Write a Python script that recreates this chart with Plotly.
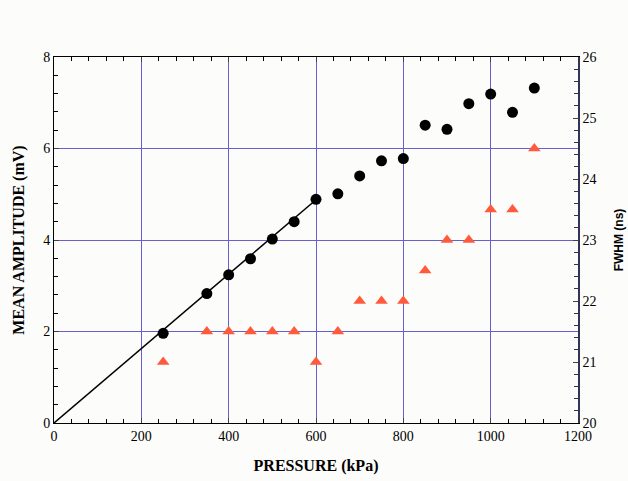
import plotly.graph_objects as go

pressure = [250, 350, 400, 450, 500, 550, 600, 650, 700, 750, 800, 850, 900, 950, 1000, 1050, 1100]
amplitude = [1.96, 2.83, 3.24, 3.59, 4.02, 4.40, 4.89, 5.01, 5.40, 5.73, 5.78, 6.51, 6.42, 6.98, 7.19, 6.79, 7.32]
fwhm = [21.0, 21.5, 21.5, 21.5, 21.5, 21.5, 21.0, 21.5, 22.0, 22.0, 22.0, 22.5, 23.0, 23.0, 23.5, 23.5, 24.5]
fit_x = [0, 600]
fit_y = [0, 4.88]

grid_color = "#6a5fd0"
serif = "Liberation Serif"
sans = "Liberation Sans"

fig = go.Figure()
fig.add_trace(go.Scatter(x=fit_x, y=fit_y, mode="lines",
                         line=dict(color="black", width=1.5), showlegend=False))
fig.add_trace(go.Scatter(x=pressure, y=amplitude, mode="markers",
                         marker=dict(symbol="circle", size=11, color="black"), showlegend=False))
fig.add_trace(go.Scatter(x=pressure, y=fwhm, mode="markers", yaxis="y2",
                         marker=dict(symbol="triangle-up", size=11, color="#ff5a3c"), showlegend=False))

fig.update_layout(
    width=628, height=481,
    margin=dict(l=54, r=50, t=57, b=58),
    paper_bgcolor="#fcfcfa", plot_bgcolor="#fcfcfa",
    font=dict(family=serif, size=14, color="black"),
    xaxis=dict(range=[0, 1200], dtick=200, tick0=0, ticks="inside", ticklen=5,
               showline=True, linecolor="black", linewidth=1, mirror="ticks", automargin=False,
               showgrid=True, gridcolor=grid_color, gridwidth=1, zeroline=False,
               minor=dict(dtick=40, ticks="inside", ticklen=4, tickcolor="black", showgrid=False),
               tickfont=dict(family=serif, size=14),
               title=dict(text="<b>PRESSURE (kPa)</b>", font=dict(family=serif, size=16), standoff=17)),
    yaxis=dict(range=[0, 8], dtick=2, tick0=0, ticks="inside", ticklen=5, automargin=False,
               showline=True, linecolor="black", linewidth=1,
               showgrid=True, gridcolor=grid_color, gridwidth=1, zeroline=False,
               minor=dict(dtick=0.4, ticks="inside", ticklen=4, tickcolor="black", showgrid=False),
               tickfont=dict(family=serif, size=14),
               title=dict(text="<b>MEAN AMPLITUDE (mV)</b>", font=dict(family=serif, size=16), standoff=14)),
    yaxis2=dict(range=[20, 26], dtick=1, tick0=20, overlaying="y", side="right", automargin=False,
                ticks="inside", ticklen=5, showline=True, linecolor="#333355", linewidth=1.5,
                showgrid=False, zeroline=False,
                minor=dict(dtick=0.2, ticks="inside", ticklen=4, tickcolor="#333355", showgrid=False),
                tickfont=dict(family=serif, size=14),
                title=dict(text="<b>FWHM (ns)</b>", font=dict(family=sans, size=12), standoff=19)),
)

fig.write_html("out.html", config={"displayModeBar": False},
               post_script="document.body.style.margin='0';document.body.style.overflow='hidden';")
